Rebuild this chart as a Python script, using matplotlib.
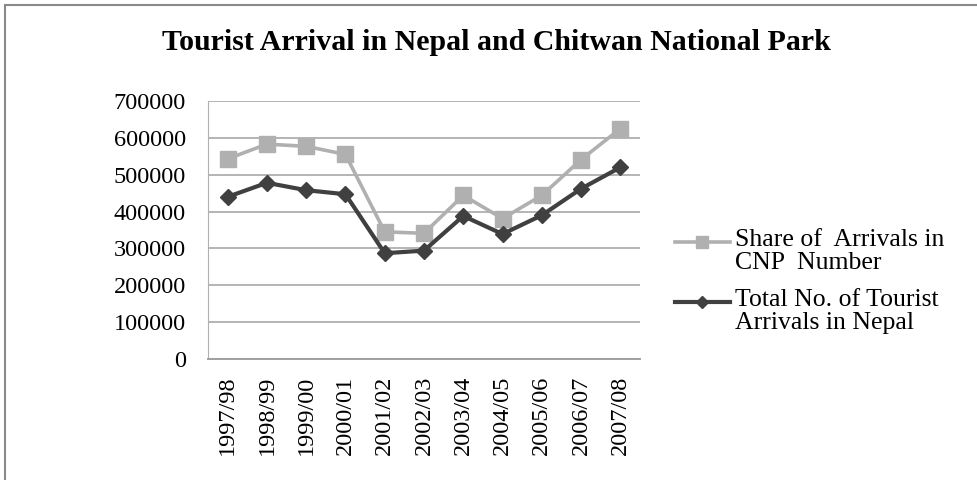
import matplotlib.pyplot as plt
import matplotlib.patches as patches
from matplotlib.lines import Line2D
import numpy as np

years = ['1997/98', '1998/99', '1999/00', '2000/01', '2001/02', '2002/03',
         '2003/04', '2004/05', '2005/06', '2006/07', '2007/08']
total_nepal = [440000, 478000, 458000, 447000, 287000, 294000,
               388000, 339000, 390000, 462000, 520000]
cnp_share = [103000, 105000, 119000, 108000, 58000, 47000,
             56000, 42000, 54000, 79000, 105000]
series_names = ['Share of  Arrivals in\nCNP  Number',
                'Total No. of Tourist\nArrivals in Nepal']

plt.rcParams['font.family'] = ['Liberation Serif', 'DejaVu Serif']

W, H = 978, 480
fig = plt.figure(figsize=(W / 100, H / 100), dpi=100)
L, R, B, T = 208, 640, 359, 101
ax = fig.add_axes([L / W, 1 - B / H, (R - L) / W, (B - T) / H])

x = np.arange(len(years))
stacked = np.array(total_nepal) + np.array(cnp_share)

styles = [dict(color='#b0b0b0', lw=2.6, marker='s', ms=12),
          dict(color='#404040', lw=3, marker='D', ms=8.5)]

# stacked line: CNP share sits on top of the national total
ax.plot(x, stacked, zorder=3, **styles[0])
ax.plot(x, total_nepal, zorder=4, **styles[1])

ax.set_xlim(-0.5, len(years) - 0.5)
ax.set_ylim(0, 700000)
ax.set_yticks(np.arange(0, 700001, 100000))
ax.set_yticklabels([str(v) for v in range(0, 700001, 100000)], fontsize=17.5)
ax.set_xticks(x)
ax.set_xticklabels(years, rotation=90, fontsize=17.5)
ax.tick_params(axis='y', length=0, pad=16)
ax.tick_params(axis='x', length=0, pad=12)

ax.grid(axis='y', color='#a8a8a8', lw=1.2)
ax.set_axisbelow(True)
for s in ['top', 'right']:
    ax.spines[s].set_visible(False)
ax.spines['left'].set_color('#b0b0b0')
ax.spines['bottom'].set_color('#a0a0a0')
ax.spines['bottom'].set_linewidth(1.4)

# legend: handle sits level with the first line of each label
for name, st, ypix in zip(series_names, styles, [242, 302]):
    yf = 1 - ypix / H
    fig.add_artist(Line2D([675 / W, 730 / W], [yf, yf], transform=fig.transFigure,
                          color=st['color'], lw=st['lw']))
    fig.add_artist(Line2D([702 / W], [yf], transform=fig.transFigure,
                          color=st['color'], marker=st['marker'],
                          ms=st['ms'] * 0.75, lw=0))
    fig.text(735 / W, yf + 13 / H, name, ha='left', va='top',
             fontsize=18.5, linespacing=1.05)

fig.text(0.508, 0.912, 'Tourist Arrival in Nepal and Chitwan National Park',
         ha='center', va='center', fontsize=21.5, fontweight='bold')

# outer chart frame
fig.patches.append(patches.Rectangle((5 / W, -0.1), 1.2, 1 - 5 / H + 0.1,
                                     transform=fig.transFigure, fill=False,
                                     edgecolor='#8a8a8a', lw=1.5))

fig.savefig('out.png', dpi=100)
